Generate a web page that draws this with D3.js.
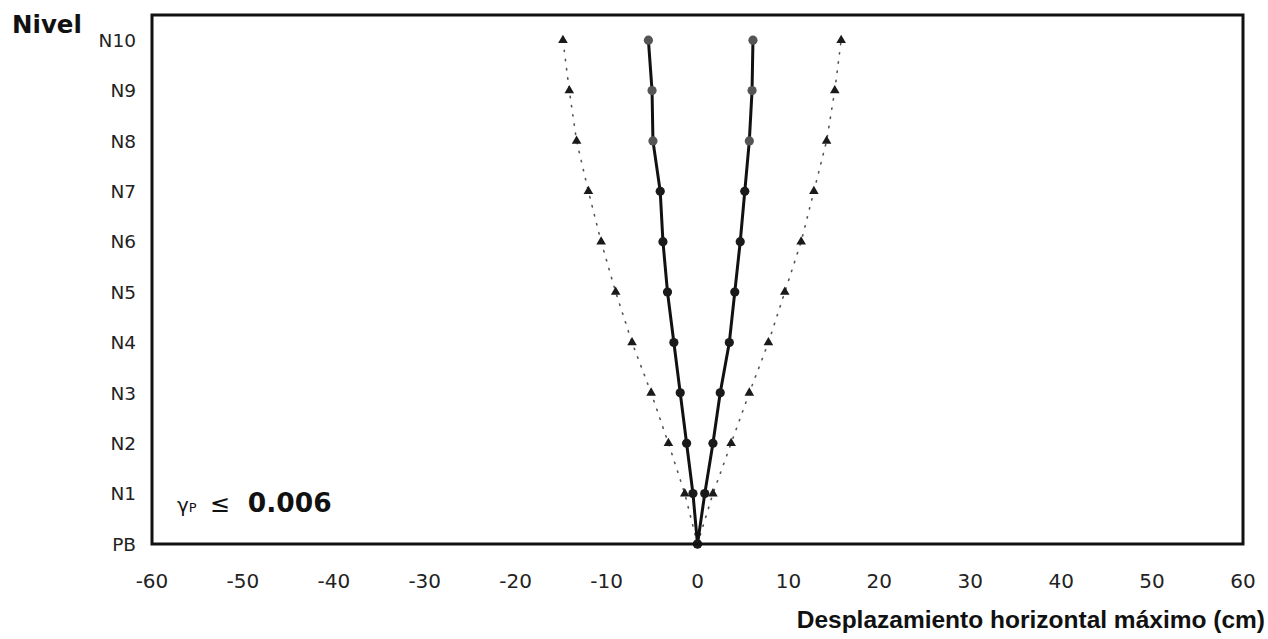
<!DOCTYPE html>
<html>
<head>
<meta charset="utf-8">
<script src="https://cdn.jsdelivr.net/npm/d3@7"></script>
<style>
  html, body { margin: 0; padding: 0; background: #fff; }
  svg { display: block; font-family: "DejaVu Sans", "Liberation Sans", Arial, sans-serif; }
</style>
</head>
<body>
<svg id="chart" width="1268" height="639"></svg>
<script>
// ---- data ----
const levels = ["PB", "N1", "N2", "N3", "N4", "N5", "N6", "N7", "N8", "N9", "N10"];
const xTicks = [-60, -50, -40, -30, -20, -10, 0, 10, 20, 30, 40, 50, 60];
const solidLeft  = [0, -0.5, -1.2, -1.9, -2.6, -3.3, -3.8, -4.1, -4.9, -5.0, -5.4];
const solidRight = [0, 0.8, 1.7, 2.5, 3.5, 4.1, 4.7, 5.2, 5.7, 6.0, 6.1];
const dotLeft    = [0, -1.4, -3.2, -5.1, -7.2, -9.0, -10.6, -12.0, -13.3, -14.1, -14.8];
const dotRight   = [0, 1.7, 3.7, 5.7, 7.8, 9.6, 11.4, 12.8, 14.2, 15.1, 15.8];
const yAxisTitle = "Nivel";
const xAxisTitle = "Desplazamiento horizontal máximo (cm)";

// ---- layout ----
const svg = d3.select("#chart");
const pLeft = 152, pRight = 1243, pTop = 15, pBottom = 544;
const x = d3.scaleLinear().domain([-60, 60]).range([pLeft, pRight]);
const y = d3.scaleLinear().domain([0, 10.5]).range([pBottom, pTop]);

const toPts = arr => arr.map((v, i) => ({ x: v, lvl: i }));
const line = d3.line().x(d => x(d.x)).y(d => y(d.lvl));

// dotted series
[dotLeft, dotRight].forEach(arr => {
  const pts = toPts(arr);
  svg.append("path").datum(pts)
    .attr("d", line)
    .attr("fill", "none")
    .attr("stroke", "#555")
    .attr("stroke-width", 1.6)
    .attr("stroke-dasharray", "1.3,8")
    .attr("stroke-linecap", "round");
  svg.selectAll(null).data(pts.slice(1)).enter()
    .append("path")
    .attr("d", d3.symbol().type(d3.symbolTriangle).size(40))
    .attr("transform", d => `translate(${x(d.x)},${y(d.lvl)})`)
    .attr("fill", "#1a1a1a");
});

// solid series
[solidLeft, solidRight].forEach(arr => {
  const pts = toPts(arr);
  svg.append("path").datum(pts)
    .attr("d", line)
    .attr("fill", "none")
    .attr("stroke", "#111")
    .attr("stroke-width", 3);
  svg.selectAll(null).data(pts).enter()
    .append("circle")
    .attr("cx", d => x(d.x))
    .attr("cy", d => y(d.lvl))
    .attr("r", 4.6)
    .attr("fill", d => d.lvl >= 8 ? "#555" : "#1a1a1a");
});

// frame
svg.append("rect")
  .attr("x", pLeft).attr("y", pTop)
  .attr("width", pRight - pLeft).attr("height", pBottom - pTop)
  .attr("fill", "none").attr("stroke", "#111").attr("stroke-width", 3);

// y-axis labels
svg.selectAll(null).data(levels).enter()
  .append("text")
  .attr("x", 136)
  .attr("y", (d, i) => y(i))
  .attr("dy", "0.36em")
  .attr("text-anchor", "end")
  .attr("font-size", 18.5)
  .attr("fill", "#222")
  .text(d => d);

// x-axis labels
svg.selectAll(null).data(xTicks).enter()
  .append("text")
  .attr("x", d => x(d))
  .attr("y", 581)
  .attr("dy", "0.36em")
  .attr("text-anchor", "middle")
  .attr("font-size", 20)
  .attr("fill", "#222")
  .text(d => d);

// titles
svg.append("text")
  .attr("x", 12).attr("y", 33)
  .attr("font-size", 24.5).attr("font-weight", "bold").attr("fill", "#111")
  .text(yAxisTitle);
svg.append("text")
  .attr("x", 1265).attr("y", 628)
  .attr("text-anchor", "end")
  .attr("font-family", "'Liberation Sans', Arial, sans-serif")
  .attr("font-size", 24.5).attr("font-weight", "bold").attr("fill", "#111")
  .text(xAxisTitle);

// annotation
const ann = svg.append("text").attr("x", 177).attr("y", 512).attr("fill", "#111");
ann.append("tspan").attr("font-size", 20).text("γ");
ann.append("tspan").attr("font-size", 13).text("P");
ann.append("tspan").attr("font-size", 24).attr("dx", 13).text("≤");
ann.append("tspan").attr("font-size", 26.5).attr("font-weight", "bold").attr("dx", 18).text("0.006");
</script>
</body>
</html>
